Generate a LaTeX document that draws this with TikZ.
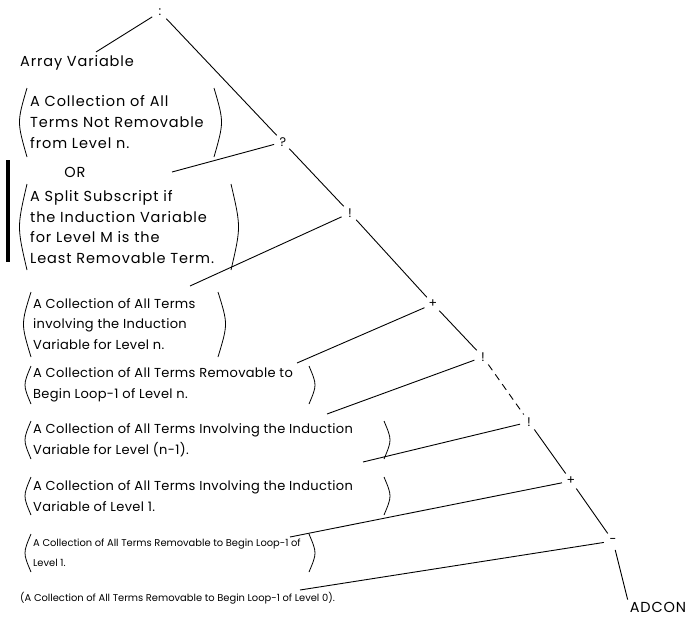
\documentclass[tikz,border=0pt]{standalone}
\usepackage{fontspec}
\setmainfont{Poppins}
\usetikzlibrary{positioning}

\begin{document}
\begin{tikzpicture}[x=1pt, y=-1pt,
    op/.style={circle, minimum size=18pt, inner sep=0pt, font=\fontsize{12.5}{12.5}\selectfont},
    term/.style={anchor=west, align=left, inner sep=0pt},
    bigtext/.style={font=\fontsize{14.5}{20.7}\selectfont\addfontfeature{LetterSpace=6}},
    midtext/.style={font=\fontsize{13}{20.7}\selectfont\addfontfeature{LetterSpace=2.5}},
    smalltext/.style={font=\fontsize{9.9}{20}\selectfont},
    branch/.style={line width=0.9pt},
    paren/.style={line width=0.8pt}]

    \useasboundingbox (0,0) rectangle (690,618);

    % operators down the spine
    \node[op] (colon) at (160,12) {:};
    \node[op] (quest) at (283,142) {?};
    \node[op] (banga) at (350,213) {!};
    \node[op] (plusa) at (433,304) {+};
    \node[op] (bangb) at (483,357) {!};
    \node[op] (bangc) at (529,422) {!};
    \node[op] (plusb) at (571,481) {+};
    \node[op] (minus) at (613,541) {-};
    \node[font=\fontsize{14.5}{14.5}\selectfont\addfontfeature{LetterSpace=6}, inner sep=2pt] (adcon) at (658,607) {ADCON};

    % operands
    \node[term, bigtext] (array) at (20,63) {Array Variable};

    \node[term, bigtext] (notrem) at (30,122) {A Collection of All\\Terms Not Removable\\from Level n.};

    \node[bigtext, inner sep=0pt] (or) at (75,172) {OR};

    \node[term, bigtext] (split) at (30,227) {A Split Subscript if\\the Induction Variable\\for Level M is the\\Least Removable Term.};

    \node[term, midtext] (ivn) at (33,324) {A Collection of All Terms\\involving the Induction\\Variable for Level n.};

    \node[term, midtext] (remn) at (33,385) {A Collection of All Terms Removable to\\Begin Loop-1 of Level n.};

    \node[term, midtext] (ivnm) at (33,440) {A Collection of All Terms Involving the Induction\\Variable for Level (n-1).};

    \node[term, midtext] (ivone) at (33,496) {A Collection of All Terms Involving the Induction\\Variable of Level 1.};

    \node[term, smalltext] (remone) at (33,553) {A Collection of All Terms Removable to Begin Loop-1 of\\Level 1.};

    \node[term, smalltext] (remzero) at (20,598) {(A Collection of All Terms Removable to Begin Loop-1 of Level 0).};

    % big parentheses
    \draw[paren] (27,88) .. controls (17,122) .. (27,157);
    \draw[paren] (214,88) .. controls (224,122) .. (214,157);
    \draw[paren] (27,184) .. controls (17,227) .. (27,270);
    \draw[paren] (231,184) .. controls (241,227) .. (231,270);
    \draw[paren] (31,292) .. controls (21,324) .. (31,357);
    \draw[paren] (218,292) .. controls (228,324) .. (218,357);
    \draw[paren] (31,366) .. controls (23,385) .. (31,404);
    \draw[paren] (309,366) .. controls (317,385) .. (309,404);
    \draw[paren] (31,421) .. controls (23,440) .. (31,459);
    \draw[paren] (384,421) .. controls (392,440) .. (384,459);
    \draw[paren] (31,477) .. controls (23,496) .. (31,515);
    \draw[paren] (384,477) .. controls (392,496) .. (384,515);
    \draw[paren] (31,534) .. controls (23,553) .. (31,572);
    \draw[paren] (309,534) .. controls (317,553) .. (309,572);

    % change bar
    \draw[line width=3.6pt] (8,160) -- (8,262);

    % free ends of the branches
    \coordinate (ea) at (96,52);
    \coordinate (eb) at (172,172);
    \coordinate (ec) at (190,286);
    \coordinate (ed) at (297,363);
    \coordinate (ee) at (327,414);
    \coordinate (ef) at (363,462);
    \coordinate (eg) at (290,537);
    \coordinate (eh) at (300,590);

    % spine
    \draw[branch] (colon) -- (quest);
    \draw[branch] (quest) -- (banga);
    \draw[branch] (banga) -- (plusa);
    \draw[branch] (plusa) -- (bangb);
    \draw[branch, dash pattern=on 7pt off 5pt] (bangb) -- (bangc);
    \draw[branch] (bangc) -- (plusb);
    \draw[branch] (plusb) -- (minus);
    \draw[branch] (minus) -- (adcon.north west);

    % branches to the operands
    \draw[branch] (colon) -- (ea);
    \draw[branch] (quest) -- (eb);
    \draw[branch] (banga) -- (ec);
    \draw[branch] (plusa) -- (ed);
    \draw[branch] (bangb) -- (ee);
    \draw[branch] (bangc) -- (ef);
    \draw[branch] (plusb) -- (eg);
    \draw[branch] (minus) -- (eh);

\end{tikzpicture}
\end{document}
